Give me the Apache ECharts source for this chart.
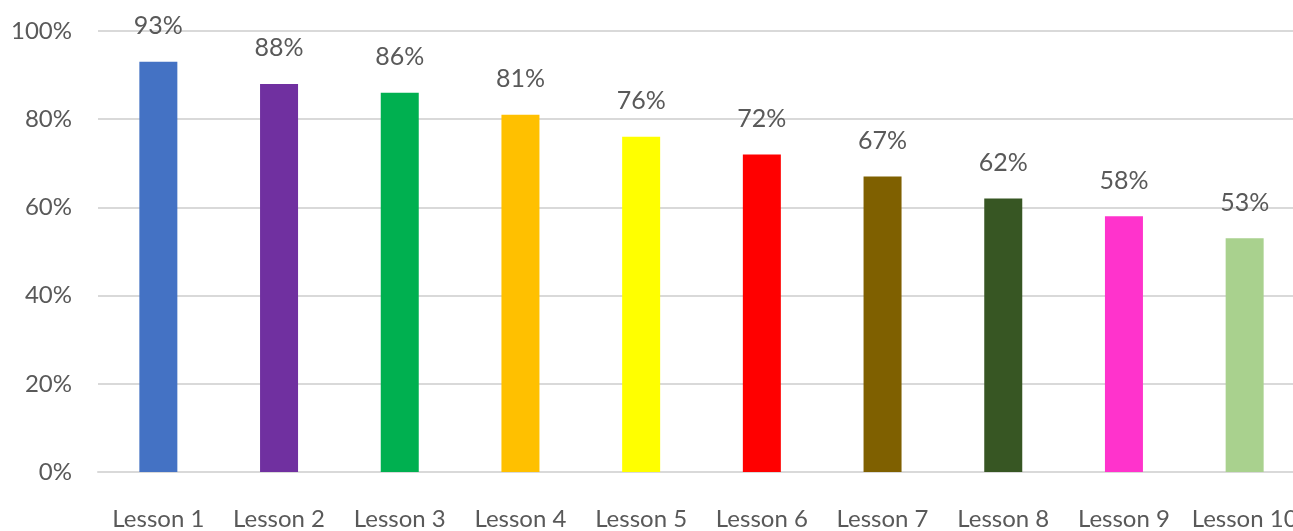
<!DOCTYPE html>
<html><head><meta charset="utf-8">
<script src="https://cdn.jsdelivr.net/npm/echarts@6/dist/echarts.min.js"></script>
<style>html,body{margin:0;padding:0;background:#fff}#c{width:1293px;height:531px}</style>
</head><body><div id="c"></div>
<script>
const categories = ['Lesson 1','Lesson 2','Lesson 3','Lesson 4','Lesson 5','Lesson 6','Lesson 7','Lesson 8','Lesson 9','Lesson 10'];
const values = [93, 88, 86, 81, 76, 72, 67, 62, 58, 53];
const barColors = ['#4472C4','#7030A0','#00B050','#FFC000','#FFFF00','#FF0000','#7F6000','#375623','#FF33CC','#A9D18E'];
const FONT = 'Lato, "Open Sans", sans-serif';
const chart = echarts.init(document.getElementById('c'), null, {renderer:'canvas'});
chart.setOption({
  animation:false,
  grid:{left:98, width:1207, top:31, bottom:59, containLabel:false, outerBoundsMode:'none'},
  xAxis:{type:'category', data:categories,
    axisLine:{lineStyle:{color:'#d9d9d9', width:2}}, axisTick:{show:false},
    axisLabel:{color:'#595959', fontSize:24, fontFamily:FONT, margin:35, interval:0, hideOverlap:false}},
  yAxis:{type:'value', min:0, max:100, interval:20,
    axisLine:{show:false}, axisTick:{show:false},
    splitLine:{lineStyle:{color:'#d9d9d9', width:2}},
    axisLabel:{color:'#595959', fontSize:24, fontFamily:FONT, margin:26, formatter:'{value}%'}},
  series:[{type:'bar', barWidth:38,
    data: values.map((v,i)=>({value:v, itemStyle:{color:barColors[i]}})),
    label:{show:true, position:'top', distance:23, color:'#595959', fontSize:25, fontFamily:FONT, formatter:'{c}%'}}]
});
</script></body></html>
